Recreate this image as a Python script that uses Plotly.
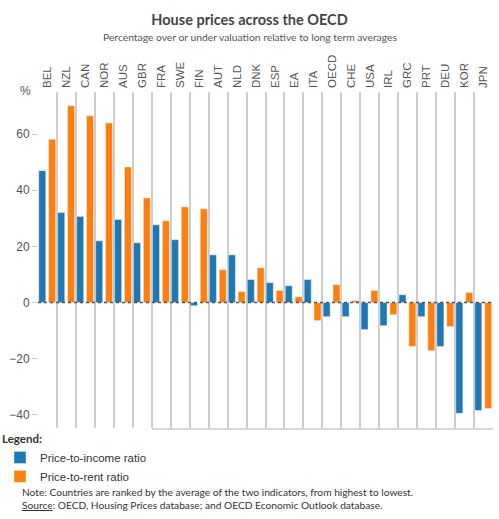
import plotly.graph_objects as go

# countries ranked by average of the two indicators
countries = ["BEL", "NZL", "CAN", "NOR", "AUS", "GBR", "FRA", "SWE", "FIN", "AUT", "NLD", "DNK",
             "ESP", "EA", "ITA", "OECD", "CHE", "USA", "IRL", "GRC", "PRT", "DEU", "KOR", "JPN"]
price_to_income = [47.0, 32.1, 30.7, 22.0, 29.6, 21.3, 27.7, 22.4, -1.1, 17.0, 17.0, 8.2,
                   7.1, 6.0, 8.2, -5.0, -5.0, -9.6, -8.2, 2.8, -5.0, -15.6, -39.4, -38.4]
price_to_rent = [58.2, 70.1, 66.5, 64.0, 48.3, 37.3, 29.1, 34.1, 33.4, 11.7, 3.9, 12.4,
                 4.3, 2.1, -6.4, 6.4, 0.7, 4.3, -4.3, -15.6, -17.1, -8.5, 3.6, -37.7]

blue = "#1f77b4"
orange = "#ff7f0e"
txt = "#555555"
grid = "#cdcdcd"
n = len(countries)

fig = go.Figure()
fig.add_trace(go.Bar(x=countries, y=price_to_income, name="Price-to-income ratio",
                     marker_color=blue, width=0.37, offset=-0.46))
fig.add_trace(go.Bar(x=countries, y=price_to_rent, name="Price-to-rent ratio",
                     marker_color=orange, width=0.37, offset=0.06))

fig.update_layout(
    width=499, height=519,
    margin=dict(l=38, r=6, t=92, b=90, autoexpand=False),
    barmode="overlay",
    plot_bgcolor="white", paper_bgcolor="white",
    font=dict(family="Liberation Sans, Arial", size=12, color=txt),
    title=dict(text="<b>House prices across the OECD</b>", x=0.5, xanchor="center",
               y=0.962, yanchor="middle",
               font=dict(family="Lato, Open Sans", size=14.5, color="#444444")),
    showlegend=True,
    legend=dict(xref="container", yref="container", x=0.0, xanchor="left",
                y=1 - 428 / 519, yanchor="top",
                title=dict(text="<b>Legend:</b>", side="top",
                           font=dict(family="Lato, Open Sans", size=11.5, color="#333333")),
                font=dict(size=11.5, color="#333333"), itemclick=False,
                tracegroupgap=2),
)

# category boundaries give the vertical separators
fig.update_xaxes(side="top", tickangle=-90, type="category", tickson="boundaries",
                 showgrid=True, gridcolor=grid, gridwidth=1.6, ticks="", showline=False,
                 ticklabelstandoff=3,
                 tickfont=dict(size=11.5, color=txt), range=[-0.5, n - 0.5])
fig.update_yaxes(range=[-45, 75], tickvals=[-40, -20, 0, 20, 40, 60], showgrid=False,
                 zeroline=False, ticks="outside", ticklen=5, tickcolor=grid,
                 tickfont=dict(size=12, color=txt), showline=False)

# zero line (dotted) and bottom frame line
fig.add_shape(type="line", xref="paper", x0=0, x1=1, yref="y", y0=0, y1=0,
              line=dict(color="#555555", width=1.5, dash="dot"))
fig.add_shape(type="line", xref="paper", x0=0, x1=1, yref="paper", y0=0, y1=0,
              line=dict(color=grid, width=1.6))

fig.add_annotation(text="Percentage over or under valuation relative to long term averages",
                   xref="paper", yref="paper", x=0.5 - 16 / 455, y=1 + 55 / 337,
                   xanchor="center", yanchor="middle", showarrow=False,
                   font=dict(family="Lato, Open Sans", size=10.3, color=txt))
fig.add_annotation(text="%", xref="paper", yref="paper", x=-0.012, y=1.003,
                   xanchor="right", yanchor="middle", showarrow=False,
                   font=dict(size=12, color=txt))
fig.add_annotation(text="Note: Countries are ranked by the average of the two indicators, from highest to lowest.",
                   xref="paper", yref="paper", x=-0.04, y=-63 / 337, xanchor="left",
                   yanchor="middle", showarrow=False,
                   font=dict(family="Lato, Open Sans", size=10.2, color="#333333"))
fig.add_annotation(text="<u>Source</u>: OECD, Housing Prices database; and OECD Economic Outlook database.",
                   xref="paper", yref="paper", x=-0.04, y=-76 / 337, xanchor="left",
                   yanchor="middle", showarrow=False,
                   font=dict(family="Lato, Open Sans", size=10.2, color="#333333"))

fig.write_html("out.html", config={"displayModeBar": False},
               post_script="document.body.style.margin='0';")
